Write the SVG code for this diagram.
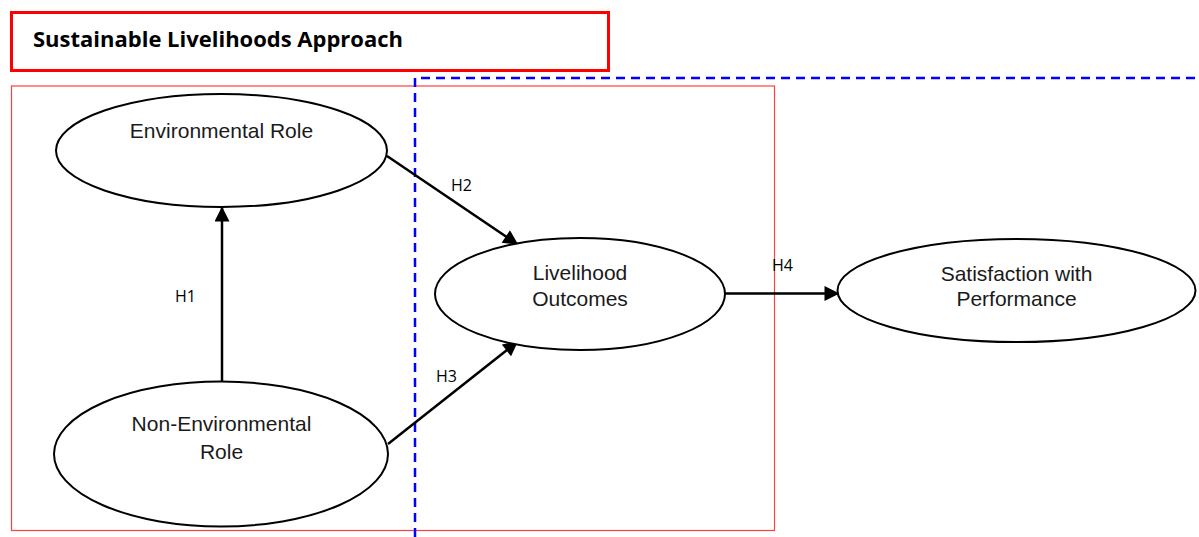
<svg xmlns="http://www.w3.org/2000/svg" width="1199" height="537" viewBox="0 0 1199 537">
<style>
.node{fill:#fff;stroke:#000;stroke-width:2}
.nt{font-family:"Liberation Sans",Arial,sans-serif;font-size:21px;fill:#1a1a1a;text-anchor:middle}
.lbl{font-family:"Open Sans","Liberation Sans",sans-serif;font-size:16px;fill:#000}
.edge{stroke:#000;stroke-width:2.5;fill:none;marker-end:url(#ah)}
</style>
<defs>
<marker id="ah" viewBox="0 0 10 10" refX="9" refY="5" markerWidth="6.5" markerHeight="6" markerUnits="strokeWidth" orient="auto">
<path d="M0,0 L10,5 L0,10 z" fill="#000"/>
</marker>
</defs>
<rect width="1199" height="537" fill="#fff"/>
<g id="title">
<rect x="11.5" y="12.5" width="597" height="58" fill="none" stroke="#ff0000" stroke-width="3"/>
<text x="33" y="47" font-family="Open Sans, Liberation Sans, sans-serif" font-size="21" font-weight="bold" fill="#000" textLength="370" lengthAdjust="spacingAndGlyphs">Sustainable Livelihoods Approach</text>
</g>
<g id="frame">
<rect x="11.5" y="86" width="763" height="444.5" fill="none" stroke="#ff4040" stroke-width="1.2"/>
</g>
<g id="dashed-boundary">
<path d="M415,537 L415,78 L1199,78" fill="none" stroke="#0000ff" stroke-width="2.5" stroke-dasharray="9,6"/>
</g>
<g id="connectors">
<line class="edge" x1="222" y1="382" x2="222" y2="208"/>
<line class="edge" x1="387" y1="156" x2="517" y2="244"/>
<line class="edge" x1="388" y1="444" x2="517" y2="342"/>
<line class="edge" x1="725" y1="293.5" x2="838" y2="293.5"/>
<text class="lbl" x="175" y="302">H1</text>
<text class="lbl" x="451" y="191">H2</text>
<text class="lbl" x="436" y="382">H3</text>
<text class="lbl" x="772" y="271">H4</text>
</g>
<g id="environmental-role">
<ellipse class="node" cx="221.5" cy="150.5" rx="165.5" ry="56.5"/>
<text class="nt" x="221.5" y="138">Environmental Role</text>
</g>
<g id="non-environmental-role">
<ellipse class="node" cx="221" cy="454" rx="167" ry="72.5"/>
<text class="nt" x="221.5" y="431">Non-Environmental</text>
<text class="nt" x="221.5" y="458.5">Role</text>
</g>
<g id="livelihood-outcomes">
<ellipse class="node" cx="580" cy="294" rx="145" ry="56"/>
<text class="nt" x="580" y="280">Livelihood</text>
<text class="nt" x="580" y="305.5">Outcomes</text>
</g>
<g id="satisfaction">
<ellipse class="node" cx="1016.5" cy="290.5" rx="179" ry="51.5"/>
<text class="nt" x="1016.5" y="281">Satisfaction with</text>
<text class="nt" x="1016.5" y="306">Performance</text>
</g>
</svg>
